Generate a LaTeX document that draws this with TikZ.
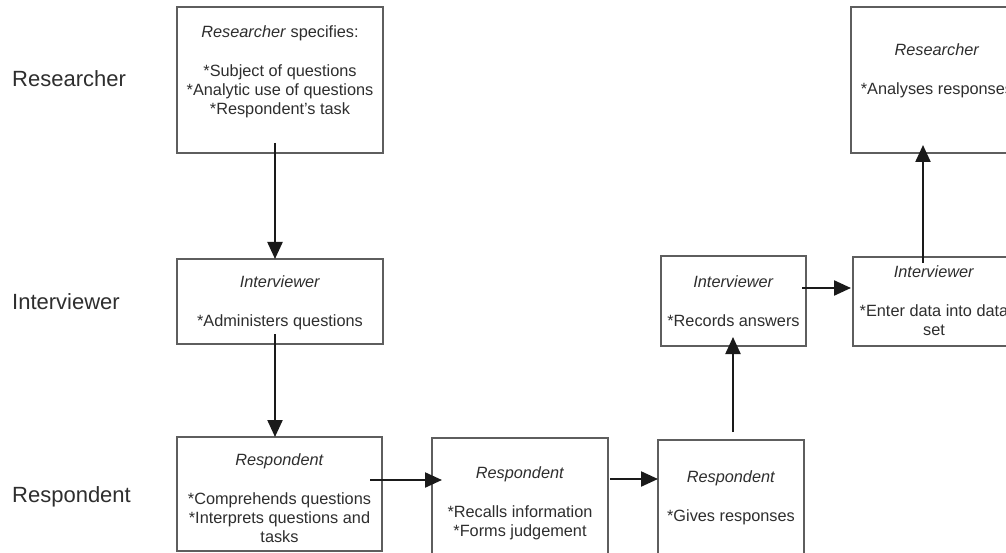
\documentclass[tikz,border=0pt]{standalone}
\usepackage{fontspec}
\setmainfont{Liberation Sans}
\usetikzlibrary{arrows.meta,calc}
\definecolor{boxgray}{HTML}{5E5E5E}
\definecolor{txtgray}{HTML}{2E2E2E}
\definecolor{linedark}{HTML}{1A1A1A}
\tikzset{
  stage/.style={draw=boxgray, line width=1.5pt, inner sep=0pt, outer sep=0pt, fill=none},
  boxtext/.style={anchor=north, inner sep=0pt, align=center, text=txtgray,
    font=\fontsize{16.3}{19}\selectfont},
  rowlabel/.style={anchor=base west, inner sep=0pt, text=txtgray,
    font=\fontsize{22}{26}\selectfont},
  arr/.style={draw=linedark, line width=2.2pt, -{Triangle[length=17pt,width=15pt]}}
}
\begin{document}
\begin{tikzpicture}[x=1pt,y=-1pt]
\useasboundingbox (0,0) rectangle (1006,553);
\clip (0,0) rectangle (1006,553);
\fill[white] (0,0) rectangle (1006,553);

% row labels
\node[rowlabel] (lres) at (12,87) {Researcher};
\node[rowlabel] (lint) at (12,309) {Interviewer};
\node[rowlabel] (lrsp) at (12,502) {Respondent};

% boxes
\node[stage, minimum width=206pt, minimum height=146pt] (r1) at (280,80) {};
\node[stage, minimum width=172pt, minimum height=146pt] (r2) at (937,80) {};
\node[stage, minimum width=206pt, minimum height=85pt] (i1) at (280,301.5) {};
\node[stage, minimum width=145pt, minimum height=90pt] (i2) at (733.5,301) {};
\node[stage, minimum width=162pt, minimum height=89pt] (i3) at (934,301.5) {};
\node[stage, minimum width=205pt, minimum height=114pt] (p1) at (279.5,494) {};
\node[stage, minimum width=176pt, minimum height=132pt] (p2) at (520,504) {};
\node[stage, minimum width=146pt, minimum height=130pt] (p3) at (731,505) {};

% box texts
\node[boxtext] (t1) at (280,25) {\textit{Researcher} specifies:\\[20pt]*Subject of questions\\*Analytic use of questions\\*Respondent's task};
\node[boxtext] (t2) at (937,43) {\textit{Researcher}\\[20pt]*Analyses responses};
\node[boxtext] (t3) at (280,275) {\textit{Interviewer}\\[20pt]*Administers questions};
\node[boxtext] (t4) at (733.5,275) {\textit{Interviewer}\\[20pt]*Records answers};
\node[boxtext] (t5) at (934,265) {\textit{Interviewer}\\[20pt]*Enter data into data\\set};
\node[boxtext] (t6) at (279.5,453) {\textit{Respondent}\\[20pt]*Comprehends questions\\*Interprets questions and\\tasks};
\node[boxtext] (t7) at (520,466) {\textit{Respondent}\\[20pt]*Recalls information\\*Forms judgement};
\node[boxtext] (t8) at (731,470) {\textit{Respondent}\\[20pt]*Gives responses};

% connectors
\coordinate (y480) at (0,480);
\coordinate (y479) at (0,479);
\coordinate (y288) at (0,288);
\draw[arr] ($(r1.south)+(-5,-10)$) -- ($(i1.north)+(-5,0)$);
\draw[arr] ($(i1.south)+(-5,-10)$) -- ($(p1.north)+(-4.5,0)$);
\draw[arr] ([xshift=-12pt]p1.east |- y480) -- ([xshift=10pt]p2.west |- y480);
\draw[arr] ([xshift=2pt]p2.east |- y479) -- (p3.west |- y479);
\draw[arr] ($(p3.north)+(2,-8)$) -- ($(i2.south)+(-0.5,-9)$);
\draw[arr] ([xshift=-4pt]i2.east |- y288) -- ([xshift=-2pt]i3.west |- y288);
\draw[arr] ($(i3.north)+(-11,6)$) -- ($(r2.south)+(-14,-8)$);
\end{tikzpicture}
\end{document}
